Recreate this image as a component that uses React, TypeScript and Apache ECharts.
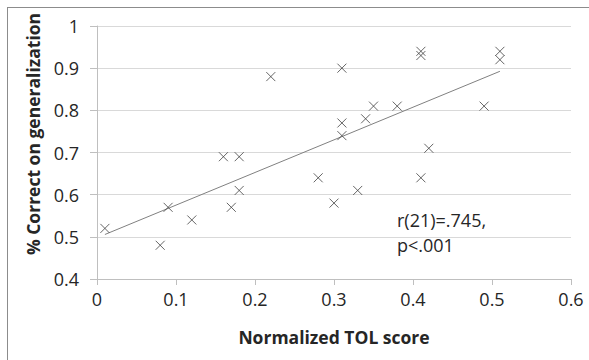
import React, { useEffect, useRef } from "react";
import * as echarts from "echarts";

const tolScore = [0.01, 0.08, 0.09, 0.12, 0.16, 0.17, 0.18, 0.18, 0.22, 0.28, 0.30, 0.31, 0.31, 0.31, 0.33, 0.34, 0.35, 0.38, 0.41, 0.41, 0.41, 0.42, 0.49, 0.51, 0.51];
const pctCorrect = [0.52, 0.48, 0.57, 0.54, 0.69, 0.57, 0.69, 0.61, 0.88, 0.64, 0.58, 0.90, 0.77, 0.74, 0.61, 0.78, 0.81, 0.81, 0.94, 0.93, 0.64, 0.71, 0.81, 0.94, 0.92];
const xTicks = [0, 0.1, 0.2, 0.3, 0.4, 0.5, 0.6];
const yTicks = [0.4, 0.5, 0.6, 0.7, 0.8, 0.9, 1];
const annotation = ["r(21)=.745,", "p<.001"];

const FONT = "'Open Sans', sans-serif";

function fit(xs: number[], ys: number[]) {
  const n = xs.length;
  const mx = xs.reduce((a, b) => a + b, 0) / n;
  const my = ys.reduce((a, b) => a + b, 0) / n;
  let sxy = 0, sxx = 0;
  for (let i = 0; i < n; i++) {
    sxy += (xs[i] - mx) * (ys[i] - my);
    sxx += (xs[i] - mx) * (xs[i] - mx);
  }
  const b = sxy / sxx;
  return { a: my - b * mx, b };
}

const fmt = (v: number) => (v === 0 ? "0" : v === 1 ? "1" : String(v));

export default function App() {
  const ref = useRef<HTMLDivElement>(null);
  useEffect(() => {
    if (!ref.current) return;
    const chart = echarts.init(ref.current, null, { renderer: "svg" });
    const { a, b } = fit(tolScore, pctCorrect);
    const xmin = Math.min(...tolScore);
    const xmax = Math.max(...tolScore);
    const trend = [
      [xmin, a + b * xmin],
      [xmax, a + b * xmax],
    ];
    chart.setOption({
      animation: false,
      backgroundColor: "transparent",
      grid: { left: 97, right: 18, top: 26, bottom: 81 },
      xAxis: {
        type: "value",
        min: xTicks[0],
        max: xTicks[xTicks.length - 1],
        interval: 0.1,
        axisLine: { show: true, onZero: false, lineStyle: { color: "#bfbfbf", width: 1 } },
        axisTick: { show: true, length: 6, lineStyle: { color: "#bfbfbf" } },
        axisLabel: { fontFamily: FONT, fontSize: 18, color: "#262626", margin: 11, formatter: fmt },
        splitLine: { show: false },
      },
      yAxis: {
        type: "value",
        min: yTicks[0],
        max: yTicks[yTicks.length - 1],
        interval: 0.1,
        axisLine: { show: true, lineStyle: { color: "#bfbfbf", width: 1 } },
        axisTick: { show: true, length: 7, lineStyle: { color: "#bfbfbf" } },
        axisLabel: { fontFamily: FONT, fontSize: 18, color: "#262626", margin: 18, formatter: fmt },
        splitLine: { show: true, lineStyle: { color: "#d9d9d9", width: 1 } },
      },
      graphic: [
        {
          type: "text",
          x: 334,
          y: 337,
          style: {
            text: "Normalized TOL score",
            fontFamily: FONT,
            fontWeight: "bold",
            fontSize: 17.5,
            fill: "#262626",
            align: "center",
            verticalAlign: "middle",
          },
        },
        {
          type: "text",
          x: 33,
          y: 134,
          rotation: Math.PI / 2,
          style: {
            text: "% Correct on generalization",
            fontFamily: FONT,
            fontWeight: "bold",
            fontSize: 17.5,
            fill: "#262626",
            align: "center",
            verticalAlign: "middle",
          },
        },
        {
          type: "text",
          x: 397,
          y: 207,
          style: {
            text: annotation.join("\n"),
            fontFamily: FONT,
            fontSize: 18,
            lineHeight: 25,
            fill: "#262626",
            align: "left",
            verticalAlign: "top",
          },
        },
      ],
      series: [
        {
          type: "line",
          data: trend,
          symbol: "none",
          lineStyle: { color: "#808080", width: 1 },
          z: 2,
        },
        {
          type: "scatter",
          data: tolScore.map((x, i) => [x, pctCorrect[i]]),
          symbol: "path://M0,0L10,10M10,0L0,10",
          symbolSize: 9,
          itemStyle: { color: "none", borderColor: "#404040", borderWidth: 1 },
          z: 3,
        },
      ],
    });
    return () => chart.dispose();
  }, []);
  return (
    <div style={{ position: "fixed", left: 0, top: 0, width: 589, height: 360, overflow: "hidden", background: "#ffffff" }}>
      <div ref={ref} style={{ position: "absolute", left: 0, top: 0, width: 589, height: 360 }} />
      <div
        style={{
          position: "absolute",
          left: 7,
          top: 7,
          width: 590,
          height: 360,
          borderTop: "1px solid #8c8c8c",
          borderLeft: "1px solid #8c8c8c",
          pointerEvents: "none",
        }}
      />
    </div>
  );
}
